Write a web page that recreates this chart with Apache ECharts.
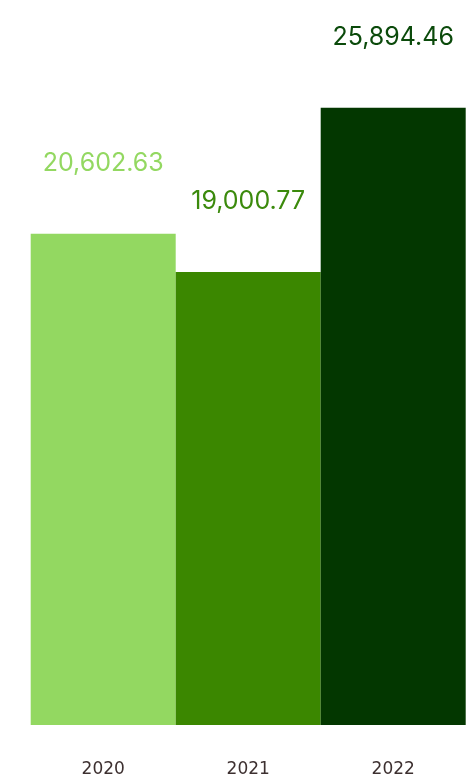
<!DOCTYPE html>
<html>
<head>
<meta charset="utf-8">
<script src="https://cdn.jsdelivr.net/npm/echarts@6/dist/echarts.min.js"></script>
<style>html,body{margin:0;padding:0;background:#fff;}#c{width:468px;height:781px;}</style>
</head>
<body>
<div id="c"></div>
<script>
const categories = ['2020', '2021', '2022'];
const values = [20602.63, 19000.77, 25894.46];
const colors = ['#93d861', '#3b8700', '#033700'];
const labelColors = ['#93d861', '#3b8a0c', '#0b4a0b'];

const chart = echarts.init(document.getElementById('c'));
chart.setOption({
  animation: false,
  grid: { left: 30.7, right: 2.3, top: 17, bottom: 56, containLabel: false, outerBoundsMode: 'none' },
  xAxis: {
    type: 'category',
    data: categories,
    axisLine: { show: false },
    axisTick: { show: false },
    axisLabel: {
      margin: 36,
      fontSize: 17,
      fontFamily: 'DejaVu Sans',
      color: '#3d3030'
    }
  },
  yAxis: {
    type: 'value',
    min: 0,
    max: 29700,
    show: false,
    splitLine: { show: false }
  },
  series: [{
    type: 'bar',
    barCategoryGap: 0,
    barGap: 0,
    data: values.map((v, i) => ({
      value: v,
      itemStyle: { color: colors[i] },
      label: { color: labelColors[i] }
    })),
    label: {
      show: true,
      position: 'top',
      distance: 58,
      fontSize: 25,
      fontFamily: 'Inter',
      formatter: p => p.value.toLocaleString('en-US', { minimumFractionDigits: 2, maximumFractionDigits: 2 })
    }
  }]
});
</script>
</body>
</html>
